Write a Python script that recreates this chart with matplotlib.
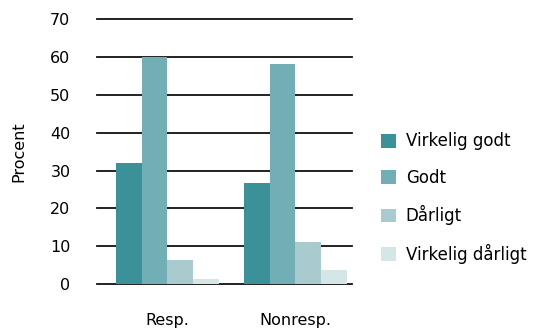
import numpy as np
import matplotlib.pyplot as plt

groups = ['Resp.', 'Nonresp.']
series = ['Virkelig godt', 'Godt', 'Dårligt', 'Virkelig dårligt']
virkelig_godt = [32.0, 26.7]
godt = [60.0, 58.2]
daarligt = [6.4, 11.1]
virkelig_daarligt = [1.4, 3.7]
colors = ['#3a9198', '#72aeb5', '#a9cbcf', '#d5e6e7']

plt.rcParams['font.family'] = ['DejaVu Sans']

fig = plt.figure(figsize=(5.38, 3.30), dpi=100)
ax = fig.add_axes([0.180, 0.139, 0.474, 0.803])

x = np.arange(len(groups))
w = 0.2
values = [virkelig_godt, godt, daarligt, virkelig_daarligt]
for i, (name, vals) in enumerate(zip(series, values)):
    ax.bar(x + (i - 1.5) * w, vals, w, color=colors[i], label=name, zorder=3)

ax.set_ylim(0, 70)
ax.set_xlim(-0.55, 1.44)
ax.set_yticks(range(0, 71, 10))
ax.grid(axis='y', color='#111111', linewidth=1.3, zorder=0)
for gl in ax.get_ygridlines():
    gl.set_clip_on(False)
for s in ax.spines.values():
    s.set_visible(False)
ax.tick_params(axis='y', length=0, pad=19, labelsize=11.5)
ax.tick_params(axis='x', length=0, pad=21, labelsize=11.5)
ax.set_xticks(x)
ax.set_xticklabels(groups)
ax.set_ylabel('Procent', fontsize=11.5, labelpad=17)

leg = fig.legend(loc='center left', bbox_to_anchor=(0.68, 0.40), frameon=False,
                 handlelength=0.9, handleheight=0.9, handletextpad=0.6,
                 labelspacing=1.1, fontsize=12)

fig.savefig('out.png', dpi=100)
